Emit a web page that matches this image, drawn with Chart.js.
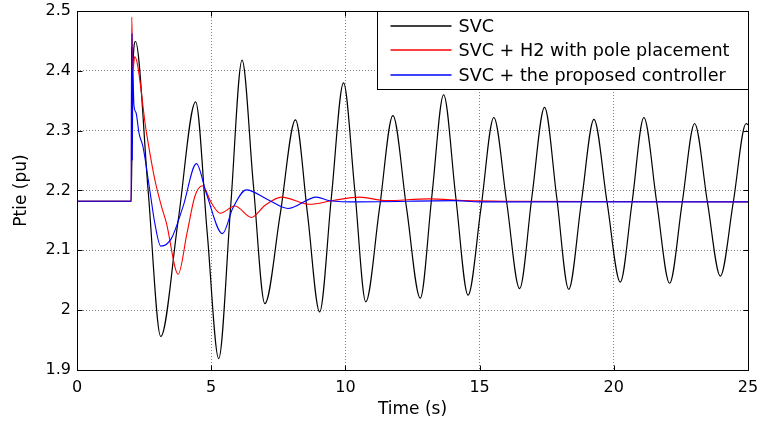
<!DOCTYPE html>
<html>
<head>
<meta charset="utf-8">
<script src="https://cdn.jsdelivr.net/npm/chart.js@4"></script>
<style>
  body { margin: 0; background: #fff; }
  #wrap { width: 761px; height: 423px; }
</style>
</head>
<body>
<div id="wrap"><canvas id="myChart" width="761" height="423"></canvas></div>
<script>
// series (time in s, Ptie in pu)
const svcTime = [0, 2.02, 2.08, 2.18, 2.65, 3.12, 3.77, 4.42, 4.85, 5.28, 5.72, 6.15, 6.57, 7.0,
  7.57, 8.14, 8.59, 9.04, 9.48, 9.93, 10.35, 10.76, 11.27, 11.77, 12.28, 12.79, 13.22, 13.66,
  14.11, 14.57, 15.05, 15.53, 16.01, 16.49, 16.95, 17.42, 17.87, 18.32, 18.79, 19.26, 19.75,
  20.24, 20.68, 21.12, 21.6, 22.08, 22.55, 23.01, 23.49, 23.97, 24.45, 24.93, 25];
const svcValues = [2.182, 2.182, 2.40, 2.449, 2.20, 1.956, 2.15, 2.348, 2.13, 1.919, 2.17, 2.418,
  2.21, 2.011, 2.16, 2.318, 2.16, 1.997, 2.19, 2.380, 2.20, 2.014, 2.17, 2.325, 2.17, 2.020,
  2.19, 2.360, 2.19, 2.025, 2.17, 2.322, 2.18, 2.036, 2.19, 2.339, 2.19, 2.035, 2.18, 2.319,
  2.18, 2.047, 2.18, 2.322, 2.18, 2.045, 2.18, 2.312, 2.18, 2.057, 2.18, 2.312, 2.31];

const h2Time = [0, 2.02, 2.04, 2.08, 2.15, 2.59, 2.9, 3.15, 3.33, 3.77, 4.1, 4.39, 4.67, 5.01,
  5.34, 5.88, 6.5, 7.0, 7.62, 8.67, 9.5, 10.53, 11.5, 13.1, 14.5, 16.1, 25];
const h2Values = [2.182, 2.182, 2.49, 2.40, 2.424, 2.296, 2.218, 2.173, 2.146, 2.060, 2.129,
  2.190, 2.208, 2.179, 2.162, 2.174, 2.155, 2.175, 2.189, 2.177, 2.183, 2.189, 2.183, 2.186,
  2.183, 2.182, 2.181];

const propTime = [0, 2.02, 2.03, 2.04, 2.05, 2.06, 2.08, 2.12, 2.2, 2.31, 2.46, 2.71, 2.9, 3.12,
  3.52, 3.95, 4.45, 4.82, 5.42, 5.81, 6.31, 7.1, 7.86, 8.92, 9.42, 10.5, 14.1, 15, 25];
const propValues = [2.182, 2.182, 2.44, 2.25, 2.463, 2.25, 2.40, 2.343, 2.33, 2.296, 2.273,
  2.201, 2.145, 2.107, 2.120, 2.173, 2.245, 2.195, 2.128, 2.171, 2.201, 2.185, 2.170, 2.189,
  2.183, 2.181, 2.183, 2.181, 2.181];

const seriesLabels = ["SVC", "SVC + H2 with pole placement", "SVC + the proposed controller"];
const seriesColors = ["#000000", "#ff0000", "#0000ff"];

const xTicks = [0, 5, 10, 15, 20, 25];
const yTicks = [1.9, 2.0, 2.1, 2.2, 2.3, 2.4, 2.5];

function toPoints(xs, ys) {
  return xs.map((x, i) => ({ x: x, y: ys[i] }));
}

// matlab style box, inner ticks and legend
const boxPlugin = {
  id: "boxPlugin",
  afterDraw(chart) {
    const { ctx, chartArea } = chart;
    const xs = chart.scales.x;
    const ys = chart.scales.y;
    const l = Math.round(chartArea.left) + 0.5;
    const r = Math.round(chartArea.right) + 0.5;
    const t = Math.round(chartArea.top) + 0.5;
    const b = Math.round(chartArea.bottom) + 0.5;
    ctx.save();
    ctx.setLineDash([]);
    ctx.strokeStyle = "#000";
    ctx.lineWidth = 1;
    ctx.beginPath();
    xTicks.forEach((v) => {
      const px = Math.round(xs.getPixelForValue(v)) + 0.5;
      ctx.moveTo(px, b);
      ctx.lineTo(px, b - 5);
      ctx.moveTo(px, t);
      ctx.lineTo(px, t + 5);
    });
    yTicks.forEach((v) => {
      const py = Math.round(ys.getPixelForValue(v)) + 0.5;
      ctx.moveTo(l, py);
      ctx.lineTo(l + 5, py);
      ctx.moveTo(r, py);
      ctx.lineTo(r - 5, py);
    });
    ctx.stroke();
    ctx.strokeRect(l, t, r - l, b - t);

    // legend
    const lw = 371;
    const lh = 78;
    const lx = r - lw;
    ctx.fillStyle = "#fff";
    ctx.fillRect(lx, t, lw, lh);
    ctx.strokeStyle = "#000";
    ctx.strokeRect(lx, t, lw, lh);
    ctx.font = "17.6px 'DejaVu Sans'";
    ctx.textBaseline = "middle";
    seriesLabels.forEach((label, i) => {
      const y = Math.round(t + 14 + i * 24.5);
      ctx.strokeStyle = seriesColors[i];
      ctx.lineWidth = 1.5;
      ctx.beginPath();
      ctx.moveTo(lx + 13, y);
      ctx.lineTo(lx + 74, y);
      ctx.stroke();
      ctx.fillStyle = "#000";
      ctx.fillText(label, lx + 81, y + 1);
    });
    ctx.restore();
  },
};

const ctx = document.getElementById("myChart").getContext("2d");

new Chart(ctx, {
  type: "line",
  data: {
    datasets: [
      {
        label: seriesLabels[0],
        data: toPoints(svcTime, svcValues),
        borderColor: seriesColors[0],
        borderWidth: 1.2,
        order: 3,
      },
      {
        label: seriesLabels[1],
        data: toPoints(h2Time, h2Values),
        borderColor: seriesColors[1],
        order: 2,
      },
      {
        label: seriesLabels[2],
        data: toPoints(propTime, propValues),
        borderColor: seriesColors[2],
        order: 1,
      },
    ],
  },
  options: {
    responsive: false,
    animation: false,
    events: [],
    layout: {
      padding: { left: 0, right: 13, top: 11, bottom: 0 },
    },
    elements: {
      point: { radius: 0 },
      line: { borderWidth: 1.1, cubicInterpolationMode: "monotone", fill: false },
    },
    scales: {
      x: {
        type: "linear",
        min: 0,
        max: 25,
        afterFit: function (scale) {
          scale.height = 53;
          scale.paddingLeft = 0;
          scale.paddingRight = 0;
        },
        afterBuildTicks: function (scale) {
          scale.ticks = xTicks.map((v) => ({ value: v }));
        },
        ticks: {
          color: "#000",
          padding: 8,
          maxRotation: 0,
          font: { family: "DejaVu Sans", size: 16 },
          callback: function (value) {
            return String(value);
          },
        },
        grid: { color: "#808080", lineWidth: 1, drawTicks: false },
        border: { display: false, dash: [1, 2] },
        title: {
          display: true,
          text: "Time (s)",
          color: "#000",
          font: { family: "DejaVu Sans", size: 17 },
          padding: { top: 0, bottom: 3 },
        },
      },
      y: {
        min: 1.9,
        max: 2.5,
        afterFit: function (scale) {
          scale.width = 77;
          scale.paddingTop = 0;
          scale.paddingBottom = 0;
        },
        afterBuildTicks: function (scale) {
          scale.ticks = yTicks.map((v) => ({ value: v }));
        },
        ticks: {
          color: "#000",
          padding: 6,
          font: { family: "DejaVu Sans", size: 16 },
          callback: function (value) {
            return String(Math.round(value * 10) / 10);
          },
        },
        grid: { color: "#808080", lineWidth: 1, drawTicks: false },
        border: { display: false, dash: [1, 2] },
        title: {
          display: true,
          text: "Ptie (pu)",
          color: "#000",
          font: { family: "DejaVu Sans", size: 17 },
          padding: { top: 11, bottom: 0 },
        },
      },
    },
    plugins: {
      legend: { display: false },
      tooltip: { enabled: false },
    },
  },
  plugins: [boxPlugin],
});
</script>
</body>
</html>
